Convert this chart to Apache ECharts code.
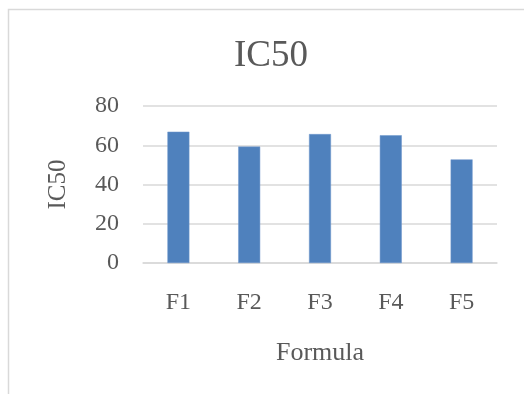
<!DOCTYPE html>
<html>
<head>
<meta charset="utf-8">
<style>
  html, body { margin: 0; padding: 0; background: #fff; }
  #chart { width: 524px; height: 394px; }
</style>
<script src="https://cdn.jsdelivr.net/npm/echarts@6/dist/echarts.min.js"></script>
</head>
<body>
<div id="chart"></div>
<script>
// IC50 per formula
const categories = ['F1', 'F2', 'F3', 'F4', 'F5'];
const ic50Values = [66.9, 59.3, 65.7, 65.1, 52.8];
const yTicks = [0, 20, 40, 60, 80];

const FONT = '"Liberation Serif", "DejaVu Serif", serif';
const TEXT = '#595959';

const chart = echarts.init(document.getElementById('chart'), null, { renderer: 'canvas' });
chart.setOption({
  animation: false,
  backgroundColor: '#ffffff',
  graphic: [{
    type: 'rect',
    shape: { x: 8.5, y: 9.5, width: 600, height: 500 },
    style: { fill: 'none', stroke: '#d9d9d9', lineWidth: 1.5 },
    z: -1
  }],
  title: {
    text: 'IC50',
    left: 266, top: 33, textAlign: 'center',
    textStyle: { fontFamily: FONT, fontSize: 37, fontWeight: 'normal', color: TEXT }
  },
  grid: { left: 143, right: 27, top: 106, bottom: 131, containLabel: false },
  xAxis: {
    type: 'category',
    data: categories,
    name: 'Formula',
    nameLocation: 'middle',
    nameGap: 77,
    nameTextStyle: { fontFamily: FONT, fontSize: 26, color: TEXT },
    axisLine: { show: true, lineStyle: { color: '#d9d9d9', width: 1.5 } },
    axisTick: { show: false },
    axisLabel: { fontFamily: FONT, fontSize: 24, color: TEXT, margin: 28 }
  },
  yAxis: {
    type: 'value',
    min: yTicks[0], max: yTicks[yTicks.length - 1], interval: 20,
    name: 'IC50',
    nameLocation: 'middle',
    nameGap: 72,
    nameRotate: 90,
    nameTextStyle: { fontFamily: FONT, fontSize: 25, color: TEXT },
    axisLine: { show: false },
    axisTick: { show: false },
    splitLine: { lineStyle: { color: '#d9d9d9', width: 1.5 } },
    axisLabel: { fontFamily: FONT, fontSize: 24, color: TEXT, margin: 24 }
  },
  series: [{
    type: 'bar',
    data: ic50Values,
    barWidth: '31%',
    itemStyle: { color: '#4f81bd', borderColor: '#6f97cc', borderWidth: 0.5 }
  }]
});
</script>
</body>
</html>
